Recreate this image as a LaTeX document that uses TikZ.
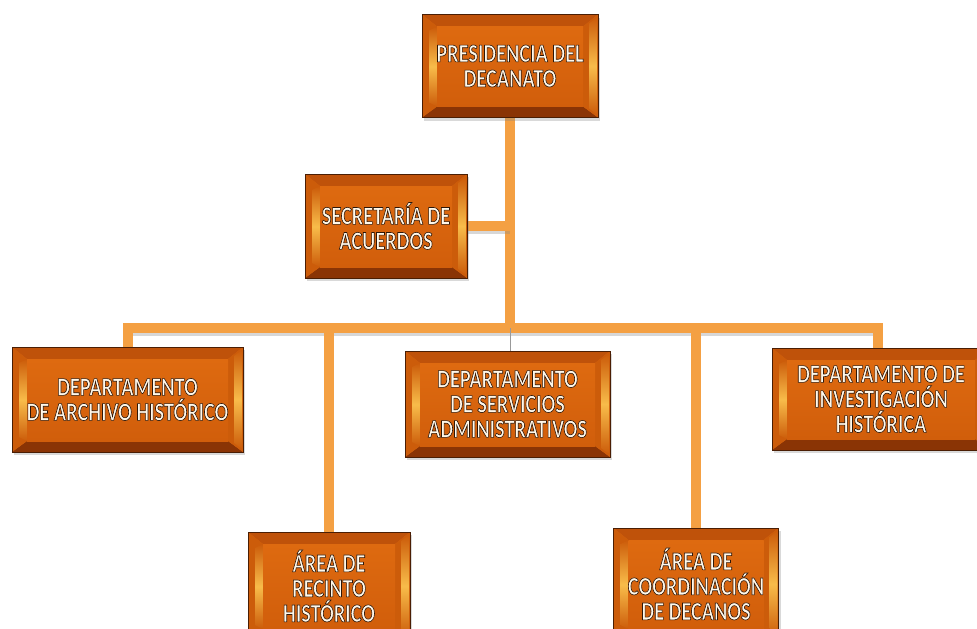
\documentclass[tikz,border=0pt]{standalone}
\usepackage{fontspec}
\newfontfamily\boxfont[FakeStretch=0.78]{Carlito}
\usetikzlibrary{calc,shadows}
\pgfdeclarelayer{bg}
\pgfsetlayers{bg,main}
\definecolor{boxedge}{HTML}{4A1E04}
\definecolor{boxface}{HTML}{DE6A10}
\definecolor{boxfacelo}{HTML}{D15E0B}
\definecolor{bevtop}{HTML}{BF520A}
\definecolor{bevbot}{HTML}{8A3405}
\definecolor{bevside}{HTML}{CC5C0A}
\definecolor{bevhi}{HTML}{F8BC4A}
\definecolor{connc}{HTML}{F4A043}
\definecolor{txtfill}{HTML}{FFF8EA}
\newcommand{\olt}{\special{pdf:literal direct 2 Tr 0.6 w 0.18 0.09 0.03 RG}}
\tikzset{
  orgbox/.style={draw=boxedge, line width=0.8pt, fill=boxface,
    text=txtfill, align=center, inner sep=2pt,
    font=\boxfont\bfseries\fontsize{26}{25}\selectfont,
    drop shadow={opacity=0.3, shadow xshift=2pt, shadow yshift=-3pt},
    path picture={
      \coordinate (sw) at (path picture bounding box.south west);
      \coordinate (ne) at (path picture bounding box.north east);
      \coordinate (nw) at (sw|-ne);
      \coordinate (se) at (ne|-sw);
      \coordinate (isw) at ($(sw)+(15pt,11pt)$);
      \coordinate (ine) at ($(ne)+(-15pt,-12pt)$);
      \coordinate (inw) at (isw|-ine);
      \coordinate (ise) at (ine|-isw);
      \fill[bevtop] (nw)--(ne)--(ine)--(inw)--cycle;
      \fill[bevbot] (sw)--(se)--(ise)--(isw)--cycle;
      \fill[bevside] (sw)--(nw)--(inw)--(isw)--cycle;
      \fill[bevside] (se)--(ne)--(ine)--(ise)--cycle;
      \shade[top color=bevside, bottom color=bevside, middle color=bevhi]
        ($(inw)+(-8pt,-4pt)$)--(inw)--(isw)--($(isw)+(-8pt,4pt)$)--cycle;
      \shade[top color=bevside, bottom color=bevside, middle color=bevhi]
        ($(ne)+(-1pt,-3pt)$)--($(ne)+(-9pt,-9pt)$)--($(se)+(-9pt,9pt)$)--($(se)+(-1pt,3pt)$)--cycle;
      \shade[top color=boxface, bottom color=boxfacelo] (isw) rectangle (ine);
    }},
  conn/.style={draw=connc, line width=10pt, line join=miter,
    preaction={draw=black!45, opacity=0.35, line width=10pt, transform canvas={yshift=-3pt}}}
}
\begin{document}
\begin{tikzpicture}[x=1pt,y=-1pt]
\useasboundingbox (0,0) rectangle (977,629);

\node[orgbox, minimum width=176pt, minimum height=103pt] (pres) at (510,66)
  {\olt PRESIDENCIA DEL\\DECANATO};
\node[orgbox, minimum width=162pt, minimum height=104pt] (sec) at (386,226)
  {\olt SECRETAR\'IA DE\\ACUERDOS};
\node[orgbox, minimum width=231pt, minimum height=105pt] (arch) at (127.5,399.5)
  {\olt DEPARTAMENTO\\DE ARCHIVO HIST\'ORICO};
\node[orgbox, minimum width=205pt, minimum height=106pt] (serv) at (507.5,404)
  {\olt DEPARTAMENTO\\DE SERVICIOS\\ADMINISTRATIVOS};
\node[orgbox, minimum width=218pt, minimum height=102pt] (inv) at (881,399)
  {\olt DEPARTAMENTO DE\\INVESTIGACI\'ON\\HIST\'ORICA};
\node[orgbox, minimum width=162pt, minimum height=108pt] (rec) at (329,586)
  {\olt \'AREA DE\\RECINTO\\HIST\'ORICO};
\node[orgbox, minimum width=165pt, minimum height=112pt] (coord) at (696,584)
  {\olt \'AREA DE\\COORDINACI\'ON\\DE DECANOS};

\coordinate (busL) at (128,328);
\coordinate (busR) at (878,328);
\coordinate (busM) at (510,328);

\begin{pgfonlayer}{bg}
\draw[conn] (pres.center) -- (busM);
\draw[conn] (sec.center) -- (sec.center -| busM);
\draw[conn] (arch.center -| busL) -- (busL) -- (busR) -- (inv.center -| busR);
\draw[conn] (rec.center |- busL) -- (rec.center);
\draw[conn] (coord.center |- busL) -- (coord.center);
\draw[black!40, line width=0.8pt] (busM) -- (serv.center -| busM);
\end{pgfonlayer}
\end{tikzpicture}
\end{document}
